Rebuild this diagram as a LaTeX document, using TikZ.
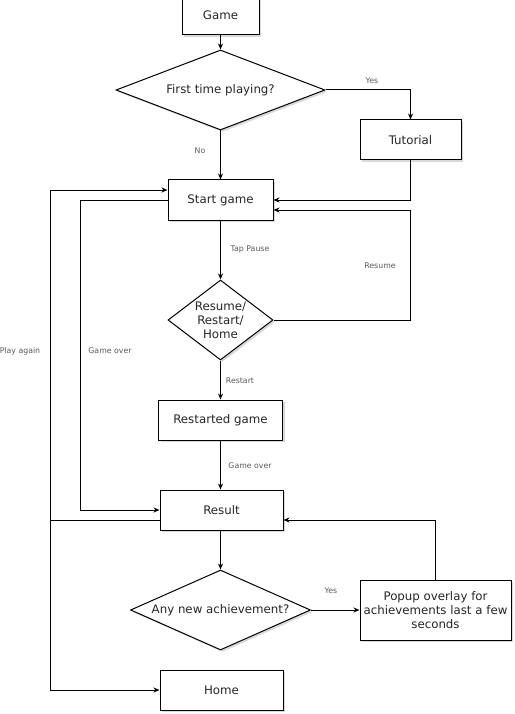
\documentclass[tikz,border=0pt]{standalone}
\usepackage{fontspec}
\setmainfont{DejaVu Sans}
\usetikzlibrary{shapes.geometric,arrows.meta,shadows}

\tikzset{
  shade/.style={drop shadow={shadow xshift=2pt,shadow yshift=-2pt,opacity=0.3}},
  box/.style={draw, fill=white, line width=1pt, minimum width=#1, minimum height=40pt,
    inner sep=2pt, align=center, text=black!85, font=\fontsize{11.8}{14}\selectfont, shade},
  box/.default=105pt,
  choice/.style={draw, fill=white, line width=1pt, diamond, inner sep=0pt, align=center,
    text=black!85, font=\fontsize{11.8}{14}\selectfont, shade},
  lbl/.style={text=black!65, font=\fontsize{7.8}{9}\selectfont, inner sep=1pt},
  arr/.style={line width=1pt, -{Stealth[length=6pt,width=5pt]}},
  line/.style={line width=1pt}
}

\begin{document}
\begin{tikzpicture}[x=1pt,y=-1pt]
\useasboundingbox (0,0) rectangle (514,714);
%
% top part
\node[box=77pt] (game) at (220.5,15) {Game};
\node[choice, minimum width=209pt, minimum height=80pt, aspect=2.6] (first) at (220.5,90) {First time playing?};
\node[box=101pt] (tutorial) at (410.5,140) {Tutorial};
\node[box=105pt] (start) at (220.5,200) {Start game};
\node[choice, minimum width=105pt, minimum height=80pt, aspect=1.31] (pause) at (220.5,320) {Resume/\\Restart/\\Home};
\node[box=124pt] (restarted) at (220.5,420) {Restarted game};
% bottom part
\node[box=123pt] (result) at (221.5,510) {Result};
\node[choice, minimum width=180pt, minimum height=80pt, aspect=2.25] (anyach) at (220.5,610) {Any new achievement?};
\node[box=151pt, minimum height=60pt] (popup) at (435.5,610) {Popup overlay for\\achievements last a few\\seconds};
\node[box=123pt] (home) at (221.5,690) {Home};

% corners
\coordinate (rs) at (410.5,210);
\coordinate (go) at (80.5,510);
\coordinate (pa) at (50.5,520);
\coordinate (pb) at (50.5,190);

% labels
\node[lbl] (yes1) at (372,81) {Yes};
\node[lbl] (no1) at (200,151) {No};
\node[lbl] (tap) at (250,249) {Tap Pause};
\node[lbl] (resume) at (380,266) {Resume};
\node[lbl] (restart) at (240,381) {Restart};
\node[lbl] (over1) at (110,351) {Game over};
\node[lbl] (over2) at (250,466) {Game over};
\node[lbl] (again) at (20,351) {Play again};
\node[lbl] (yes2) at (331,591) {Yes};

% connectors
\draw[arr] (game) -- (first);
\draw[arr] (first.east) -| (tutorial.north);
\draw[arr] (first) -- (start);
\draw[arr] (tutorial.south) |- (start.east);
\draw[arr] (start) -- (pause);
\draw[arr] (pause.east) -| (rs) -- (start.east |- rs);
\draw[arr] (pause) -- (restarted);
\draw[arr] (restarted.south) -- (restarted.south |- result.north);
\draw[arr] (start.west) -| (go) -- (result.west);
\draw[arr] (result.west |- pa) -- (pa) -- (pb) -- (start.west |- pb);
\draw[arr] (pa) |- (home.west);
\draw[arr] (anyach.north |- result.south) -- (anyach.north);
\draw[arr] (anyach.east) -- (popup.west);
\draw[arr] (popup.north) |- (result.east |- pa);
\end{tikzpicture}
\end{document}
